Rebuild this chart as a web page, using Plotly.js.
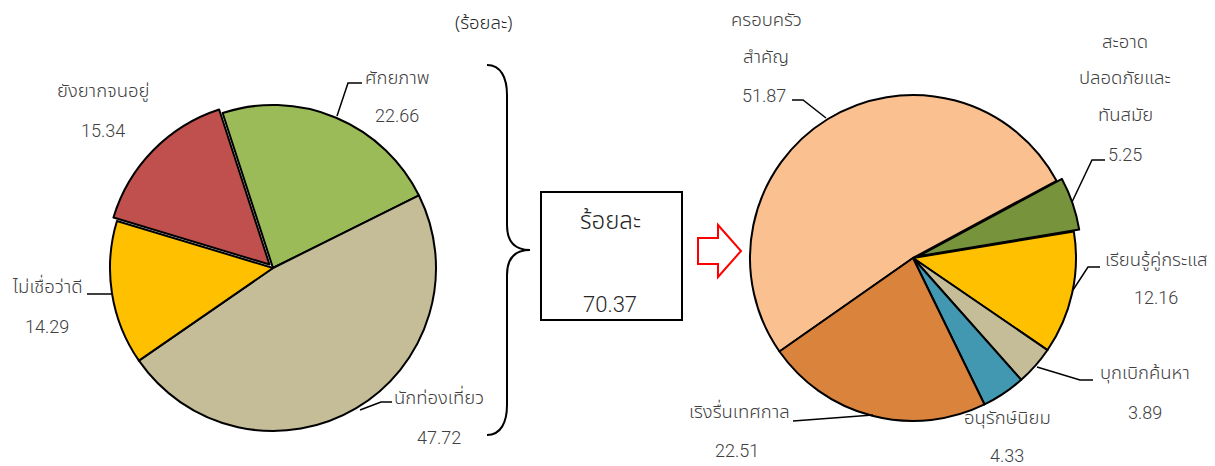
<!DOCTYPE html>
<html><head><meta charset="utf-8">
<script src="https://cdn.plot.ly/plotly-3.0.1.min.js"></script>
<style>body{margin:0;background:#fff}#chart{width:1215px;height:466px}</style>
</head><body><div id="chart"></div>
<script>
// ---- data ----
const leftLabels = ['ศักยภาพ', 'นักท่องเที่ยว', 'ไม่เชื่อว่าดี', 'ยังยากจนอยู่'];
const leftValues = [22.66, 47.72, 14.29, 15.34];
const rightLabels = ['ครอบครัว<br>สำคัญ', 'สะอาด<br>ปลอดภัยและ<br>ทันสมัย', 'เรียนรู้คู่กระแส', 'บุกเบิกค้นหา', 'อนุรักษ์นิยม', 'เริงรื่นเทศกาล'];
const rightValues = [51.87, 5.25, 12.16, 3.89, 4.33, 22.51];
const boxLabel = 'ร้อยละ';
const boxValue = 70.37;
const unitLabel = '(ร้อยละ)';

// ---- layout helpers ----
const W = 1215, H = 466;
const X = px => px / W;
const Y = py => 1 - py / H;
const THAI = "'Noto Sans Thai', 'Liberation Sans', sans-serif";
const NUM = "Roboto, 'Liberation Sans', sans-serif";

const leftColors = ['#9BBB59', '#C4BD97', '#FFC000', '#C0504D'];
const rightColors = ['#FAC090', '#77933C', '#FFC000', '#C4BD97', '#4298B0', '#DA833D'];

function dom(cx, cy, r, pull) {
  const h = r * (1 + pull);
  return {x: [X(cx - h), X(cx + h)], y: [Y(cy + h), Y(cy - h)]};
}
const leftPull = 0.03, rightPull = 0.035;

const traces = [
  {type: 'pie', labels: leftLabels, values: leftValues, sort: false, direction: 'clockwise',
   rotation: -18, textinfo: 'none', hoverinfo: 'label+value',
   marker: {colors: leftColors, line: {color: '#000', width: 2}},
   pull: leftValues.map((v, i) => i === 3 ? leftPull : 0),
   domain: dom(273, 268, 163, leftPull), showlegend: false},
  {type: 'pie', labels: rightLabels, values: rightValues, sort: false, direction: 'clockwise',
   rotation: -125, textinfo: 'none', hoverinfo: 'label+value',
   marker: {colors: rightColors, line: {color: '#000', width: 2}},
   pull: rightValues.map((v, i) => i === 1 ? rightPull : 0),
   domain: dom(913, 258, 163, rightPull), showlegend: false}
];

// label positions (pixels): each entry is a list of line centres, last one holds the value
const leftPos = [
  [[397, 78], [397, 115]],
  [[439, 398], [439, 437]],
  [[47, 287], [47, 326]],
  [[103, 91], [103, 130]]
];
const rightPos = [
  [[766, 20], [766, 57], [764, 96]],
  [[1125, 42], [1125, 78], [1125, 115], [1125, 155]],
  [[1156, 260], [1156, 297]],
  [[1145, 373], [1145, 412]],
  [[1007, 418], [1007, 455]],
  [[739, 412], [737, 450]]
];

const annotations = [];
function addAnn(text, p, size, color, family, weight) {
  annotations.push({text: text, x: X(p[0]), y: Y(p[1]), xref: 'paper', yref: 'paper',
    xanchor: 'center', yanchor: 'middle', showarrow: false,
    font: {family: family, size: size, color: color, weight: weight}});
}
function addLabels(labels, values, pos) {
  labels.forEach((lab, i) => {
    const lines = lab.split('<br>');
    lines.forEach((ln, j) => addAnn(ln, pos[i][j], 18.5, '#404040', THAI, 300));
    addAnn(values[i].toFixed(2), pos[i][lines.length], 18, '#404040', NUM, 300);
  });
}
addLabels(leftLabels, leftValues, leftPos);
addLabels(rightLabels, rightValues, rightPos);
addAnn(unitLabel, [483, 23], 18.5, '#262626', THAI, 300);
addAnn(boxLabel, [610, 222], 24, '#262626', THAI, 300);
addAnn(boxValue.toFixed(2), [610, 304], 22, '#262626', NUM, 300);

// decorations
function pathOf(pts) {
  return pts.map((p, i) => (i ? 'L' : 'M') + X(p[0]) + ',' + Y(p[1])).join(' ');
}
const leaders = [
  [[362, 83], [348, 83], [337, 116]],
  [[87, 294], [112, 294]],
  [[392, 402], [381, 402], [360, 410]],
  [[792, 100], [803, 100], [826, 118]],
  [[1105, 160], [1092, 160], [1072, 202]],
  [[1100, 267], [1088, 267], [1073, 290]],
  [[1093, 380], [1080, 380], [1037, 367]],
  [[793, 421], [873, 415]]
];
const shapes = leaders.map(pts => ({type: 'path', xref: 'paper', yref: 'paper',
  path: pathOf(pts), line: {color: '#000', width: 1.5}}));

// brace
const P = (x, y) => X(x) + ',' + Y(y);
const brace = 'M' + P(487, 65) + ' C' + P(501, 65) + ' ' + P(507, 78) + ' ' + P(507, 95) +
  ' L' + P(507, 225) + ' C' + P(507, 242) + ' ' + P(515, 250) + ' ' + P(530, 250) +
  ' C' + P(515, 250) + ' ' + P(507, 258) + ' ' + P(507, 275) +
  ' L' + P(507, 405) + ' C' + P(507, 422) + ' ' + P(501, 435) + ' ' + P(487, 435);
shapes.push({type: 'path', xref: 'paper', yref: 'paper', path: brace, line: {color: '#000', width: 2}});

// box
shapes.push({type: 'rect', xref: 'paper', yref: 'paper', x0: X(541), x1: X(682), y0: Y(320), y1: Y(192),
  line: {color: '#000', width: 2}, fillcolor: 'rgba(0,0,0,0)'});

// block arrow
shapes.push({type: 'path', xref: 'paper', yref: 'paper',
  path: pathOf([[698, 238], [718, 238], [718, 225], [741, 251], [718, 277], [718, 264], [698, 264]]) + ' Z',
  line: {color: '#FF0000', width: 2}, fillcolor: '#FFFFFF'});

const layout = {
  width: W, height: H, margin: {l: 0, r: 0, t: 0, b: 0},
  paper_bgcolor: '#fff', plot_bgcolor: '#fff',
  font: {family: THAI},
  annotations: annotations, shapes: shapes, showlegend: false
};
Plotly.newPlot('chart', traces, layout, {displayModeBar: false, staticPlot: true});
</script>
</body></html>
